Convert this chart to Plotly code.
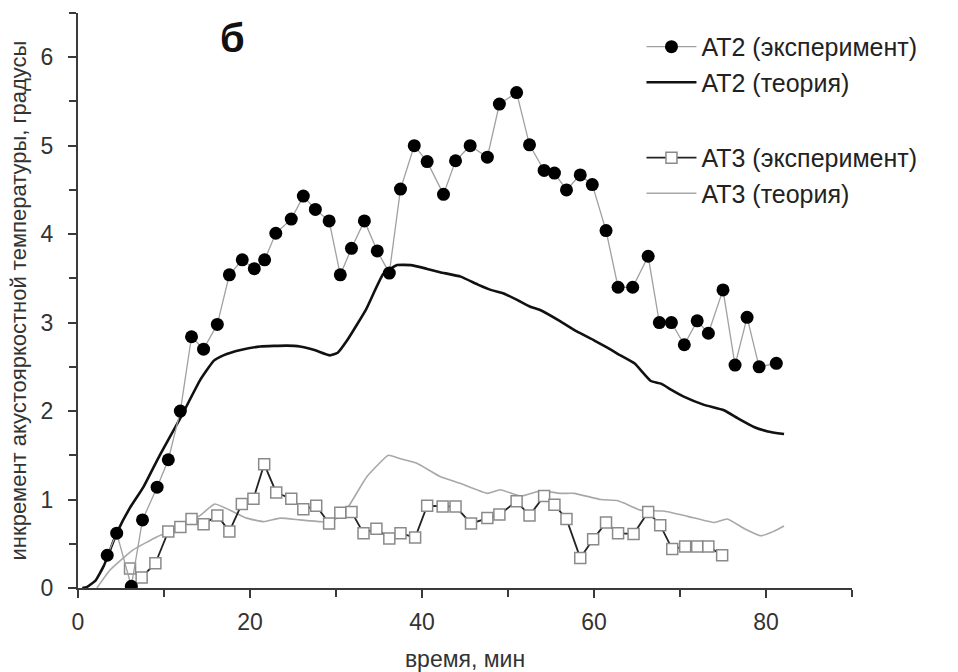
import plotly.graph_objects as go

# AT2 experiment
at2_exp_x = [3.4, 4.5, 6.2, 7.5, 9.2, 10.5, 11.9, 13.2, 14.6, 16.2, 17.6, 19.1, 20.5, 21.7, 23.0, 24.8,
             26.2, 27.6, 29.2, 30.5, 31.8, 33.3, 34.8, 36.2, 37.5, 39.1, 40.6, 42.5, 43.9, 45.6, 47.6,
             49.0, 51.0, 52.5, 54.2, 55.4, 56.8, 58.4, 59.8, 61.4, 62.8, 64.5, 66.3, 67.6, 69.0, 70.5,
             72.0, 73.3, 75.0, 76.4, 77.8, 79.2, 81.2]
at2_exp_y = [0.37, 0.62, 0.02, 0.77, 1.14, 1.45, 2.00, 2.84, 2.70, 2.98, 3.54, 3.71, 3.61, 3.71, 4.01, 4.17,
             4.43, 4.28, 4.15, 3.54, 3.84, 4.15, 3.81, 3.56, 4.51, 5.00, 4.82, 4.45, 4.83, 5.00, 4.87,
             5.47, 5.60, 5.01, 4.72, 4.69, 4.50, 4.67, 4.56, 4.04, 3.40, 3.40, 3.75, 3.00, 3.00, 2.75,
             3.02, 2.88, 3.37, 2.52, 3.06, 2.50, 2.54]

# AT2 theory
at2_th_x = [0.5, 1.0, 2.0, 3.0, 4.5, 6.0, 7.6, 9.5, 11.9, 14.2, 15.8, 16.9, 18.9, 21.2, 24.3, 25.8, 27.5,
            29.3, 30.2, 31.3, 33.5, 35.5, 37.1, 38.7, 40.5, 42.1, 44.5, 46.5, 48.0, 49.5, 51.0, 52.6,
            53.8, 56.0, 58.0, 60.0, 61.5, 62.7, 64.7, 66.6, 67.8, 69.0, 70.5, 72.8, 75.1, 76.7, 78.6,
            80.2, 82.1]
at2_th_y = [0.0, 0.01, 0.08, 0.25, 0.62, 0.90, 1.14, 1.50, 1.92, 2.35, 2.57, 2.63, 2.69, 2.73, 2.74, 2.73,
            2.69, 2.63, 2.66, 2.80, 3.15, 3.55, 3.65, 3.65, 3.61, 3.57, 3.52, 3.43, 3.37, 3.33, 3.26, 3.18,
            3.14, 3.02, 2.90, 2.80, 2.72, 2.65, 2.54, 2.34, 2.31, 2.24, 2.16, 2.07, 2.01, 1.92, 1.82,
            1.77, 1.74]

# AT3 experiment
at3_exp_x = [6.05, 7.4, 9.0, 10.5, 11.9, 13.2, 14.6, 16.2, 17.6, 19.05, 20.4, 21.65, 23.05, 24.8, 26.2,
             27.7, 29.2, 30.5, 31.8, 33.2, 34.7, 36.2, 37.5, 39.2, 40.6, 42.4, 43.9, 45.7, 47.6, 49.0,
             51.0, 52.5, 54.2, 55.4, 56.8, 58.4, 59.9, 61.4, 62.8, 64.6, 66.3, 67.7, 69.1, 70.6, 72.0,
             73.3, 74.9]
at3_exp_y = [0.22, 0.12, 0.28, 0.64, 0.69, 0.78, 0.72, 0.82, 0.64, 0.95, 1.01, 1.40, 1.08, 1.01, 0.89,
             0.93, 0.73, 0.85, 0.86, 0.62, 0.67, 0.56, 0.62, 0.57, 0.93, 0.92, 0.92, 0.73, 0.79, 0.83,
             0.98, 0.82, 1.04, 0.94, 0.78, 0.34, 0.55, 0.74, 0.62, 0.61, 0.86, 0.71, 0.44, 0.47, 0.47,
             0.47, 0.37]

# AT3 theory
at3_th_x = [2.2, 3.7, 6.4, 9.2, 11.9, 14.2, 15.9, 18.1, 19.6, 21.6, 23.5, 25.8, 28.2, 29.5, 31.3, 33.6,
            36.1, 37.5, 39.4, 42.1, 44.5, 47.6, 49.1, 51.5, 53.8, 56.1, 57.7, 60.8, 62.7, 63.5, 65.4,
            68.1, 70.9, 74.0, 75.5, 77.5, 79.4, 80.9, 82.1]
at3_th_y = [0.0, 0.20, 0.43, 0.58, 0.69, 0.82, 0.95, 0.86, 0.79, 0.75, 0.79, 0.77, 0.75, 0.75, 0.90, 1.26,
            1.50, 1.46, 1.41, 1.26, 1.18, 1.07, 1.11, 1.04, 1.10, 1.07, 1.07, 1.00, 0.99, 0.96, 0.88,
            0.87, 0.81, 0.74, 0.78, 0.67, 0.59, 0.64, 0.70]

names = ["АТ2 (эксперимент)", "АТ2 (теория)", "АТ3 (эксперимент)", "АТ3 (теория)"]
x_ticks = [0, 20, 40, 60, 80]
y_ticks = [0, 1, 2, 3, 4, 5, 6]

FONT = "Arial, Liberation Sans, sans-serif"

fig = go.Figure()
fig.add_trace(go.Scatter(x=at2_th_x, y=at2_th_y, mode="lines", name=names[1], legendgroup="a",
                         legendrank=2, line=dict(color="#111111", width=2.6, shape="spline", smoothing=0.4)))
fig.add_trace(go.Scatter(x=at3_th_x, y=at3_th_y, mode="lines", name=names[3], legendgroup="b",
                         legendrank=4, line=dict(color="#a8a8a8", width=1.6, shape="spline", smoothing=0.4)))
fig.add_trace(go.Scatter(x=at3_exp_x, y=at3_exp_y, mode="lines+markers", name=names[2], legendgroup="b",
                         legendrank=3, line=dict(color="#222222", width=1.8),
                         marker=dict(symbol="square", size=11, color="white",
                                     line=dict(color="#8a8a8a", width=1.5))))
fig.add_trace(go.Scatter(x=at2_exp_x, y=at2_exp_y, mode="lines+markers", name=names[0], legendgroup="a",
                         legendrank=1, line=dict(color="#a0a0a0", width=1.3),
                         marker=dict(symbol="circle", size=13, color="black")))

fig.add_annotation(x=0.2, y=0.957, xref="paper", yref="paper", text="<b>б</b>", showarrow=False,
                   xanchor="center", yanchor="middle", font=dict(family=FONT, size=40, color="#111111"))

axis_common = dict(showline=True, linecolor="#3a3a3a", linewidth=2, ticks="outside", ticklen=8,
                   tickwidth=2, tickcolor="#3a3a3a", showgrid=False, zeroline=False,
                   tickfont=dict(family=FONT, size=23, color="#333333"))

fig.update_xaxes(range=[0, 90], tickvals=x_ticks, ticktext=[str(v) for v in x_ticks],
                 ticklabelstandoff=4,
                 minor=dict(tickvals=[10, 30, 50, 70, 90], ticklen=7, tickwidth=2, tickcolor="#3a3a3a",
                            ticks="outside"),
                 title=dict(text="время, мин", font=dict(family=FONT, size=23, color="#333333"), standoff=18),
                 **axis_common)
fig.update_yaxes(range=[0, 6.5], tickvals=y_ticks, ticktext=[str(v) for v in y_ticks],
                 ticklabelstandoff=10,
                 minor=dict(tickvals=[0.5, 1.5, 2.5, 3.5, 4.5, 5.5, 6.5], ticklen=7, tickwidth=2,
                            tickcolor="#3a3a3a", ticks="outside"),
                 title=dict(text="инкремент акустояркостной температуры, градусы",
                            font=dict(family=FONT, size=22, color="#333333"), standoff=8),
                 **axis_common)

fig.update_layout(
    width=958, height=672,
    margin=dict(l=78, r=106, t=13, b=84, autoexpand=False),
    plot_bgcolor="white", paper_bgcolor="white",
    showlegend=True,
    legend=dict(x=0.728, y=0.981, xanchor="left", yanchor="top", traceorder="grouped",
                tracegroupgap=40, bgcolor="rgba(0,0,0,0)", itemwidth=50,
                font=dict(family=FONT, size=25, color="#222222")),
)

fig.write_html("out.html")
